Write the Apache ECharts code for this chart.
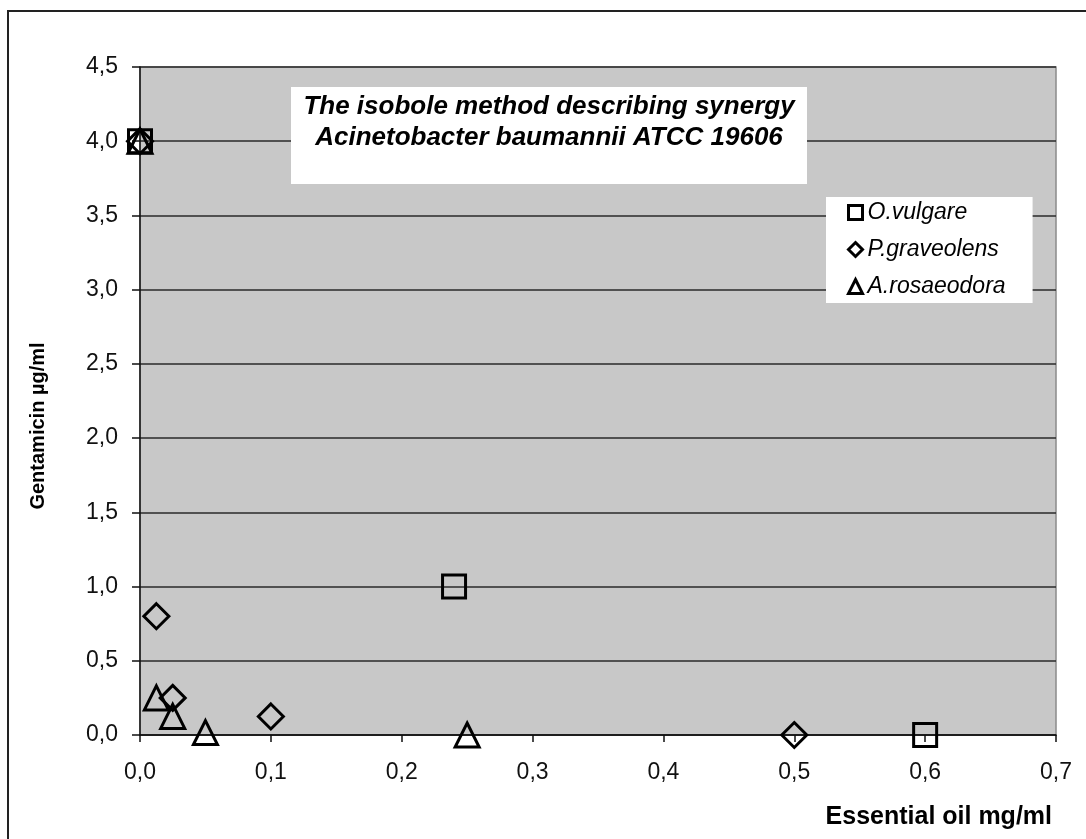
<!DOCTYPE html>
<html>
<head>
<meta charset="utf-8">
<title>Isobole</title>
<script src="https://cdn.jsdelivr.net/npm/echarts@6.0.0/dist/echarts.min.js"></script>
<style>
  html, body { margin: 0; padding: 0; background: #fff; }
  #chart { width: 1086px; height: 839px; }
</style>
</head>
<body>
<div id="chart"></div>
<script>
// essential oil (mg/ml) vs gentamicin (µg/ml)
const seriesNames = ['O.vulgare', 'P.graveolens', 'A.rosaeodora']
const oilVulgare = [0, 0.24, 0.6]
const gentaVulgare = [4, 1, 0]
const oilGraveolens = [0, 0.0125, 0.025, 0.1, 0.5]
const gentaGraveolens = [4, 0.8, 0.25, 0.125, 0]
const oilRosaeodora = [0, 0.0125, 0.025, 0.05, 0.25]
const gentaRosaeodora = [4, 0.25, 0.125, 0.016, 0]
const xTicks = { min: 0, max: 0.7, interval: 0.1 }
const yTicks = { min: 0, max: 4.5, interval: 0.5 }

const font = 'Liberation Sans, Arial, sans-serif'
const comma = (v) => v.toFixed(1).replace('.', ',')
const pairs = (xs, ys) => xs.map((x, i) => [x, ys[i]])

const markerStyle = {
  color: 'rgba(0,0,0,0)',
  borderColor: '#000',
  borderWidth: 3,
  opacity: 1
}

const chart = echarts.init(document.getElementById('chart'))
chart.setOption({
  animation: false,
  backgroundColor: '#fff',
  grid: {
    left: 140,
    top: 67,
    right: 30,
    bottom: 104,
    show: true,
    backgroundColor: '#c8c8c8',
    borderColor: '#8a8a8a',
    borderWidth: 1.5
  },
  legend: {
    data: seriesNames,
    orient: 'vertical',
    left: 826,
    top: 197,
    backgroundColor: '#fff',
    padding: [4, 27, 5, 21],
    itemGap: 14,
    itemWidth: 14,
    itemHeight: 14,
    itemStyle: { borderWidth: 3, borderColor: '#000' },
    textStyle: { fontFamily: font, fontStyle: 'italic', fontSize: 23, color: '#000' }
  },
  xAxis: {
    type: 'value',
    min: xTicks.min,
    max: xTicks.max,
    interval: xTicks.interval,
    name: 'Essential oil mg/ml',
    nameLocation: 'end',
    nameGap: -4,
    nameTextStyle: {
      fontFamily: font, fontWeight: 'bold', fontSize: 25, color: '#000',
      align: 'right', verticalAlign: 'top', padding: [70, 0, 0, 0]
    },
    axisLine: { show: true, lineStyle: { color: '#111', width: 1.5 } },
    axisTick: { show: true, length: 7, lineStyle: { color: '#111', width: 1.5 } },
    axisLabel: { margin: 26, fontFamily: font, fontSize: 23, color: '#111', formatter: comma },
    splitLine: { show: false }
  },
  yAxis: {
    type: 'value',
    min: yTicks.min,
    max: yTicks.max,
    interval: yTicks.interval,
    name: 'Gentamicin µg/ml',
    nameLocation: 'middle',
    nameGap: 92,
    nameTextStyle: {
      fontFamily: font, fontWeight: 'bold', fontSize: 20, color: '#000',
      padding: [0, 50, 0, 0]
    },
    axisLine: { show: true, lineStyle: { color: '#111', width: 1.5 } },
    axisTick: { show: true, length: 8, lineStyle: { color: '#111', width: 1.5 } },
    axisLabel: { margin: 22, fontFamily: font, fontSize: 23, color: '#111', formatter: comma },
    splitLine: { show: true, lineStyle: { color: '#2a2a2a', width: 1.5 } }
  },
  graphic: [
    // outer frame of the figure
    {
      type: 'rect',
      shape: { x: 8, y: 11, width: 1200, height: 1000 },
      style: { fill: 'none', stroke: '#222', lineWidth: 2 },
      silent: true
    },
    // title box
    {
      type: 'rect',
      shape: { x: 291, y: 87, width: 516, height: 97 },
      style: { fill: '#fff' },
      z: 10
    },
    {
      type: 'text',
      x: 549,
      y: 91,
      z: 11,
      style: {
        text: 'The isobole method describing synergy\nAcinetobacter baumannii ATCC 19606',
        font: 'italic bold 26px ' + font,
        lineHeight: 31,
        textAlign: 'center',
        fill: '#000'
      }
    }
  ],
  series: [
    {
      name: seriesNames[0],
      type: 'scatter',
      symbol: 'rect',
      symbolSize: 23,
      itemStyle: markerStyle,
      data: pairs(oilVulgare, gentaVulgare)
    },
    {
      name: seriesNames[1],
      type: 'scatter',
      symbol: 'diamond',
      symbolSize: 25,
      itemStyle: markerStyle,
      data: pairs(oilGraveolens, gentaGraveolens)
    },
    {
      name: seriesNames[2],
      type: 'scatter',
      symbol: 'triangle',
      symbolSize: 24,
      itemStyle: markerStyle,
      data: pairs(oilRosaeodora, gentaRosaeodora)
    }
  ]
})
</script>
</body>
</html>
